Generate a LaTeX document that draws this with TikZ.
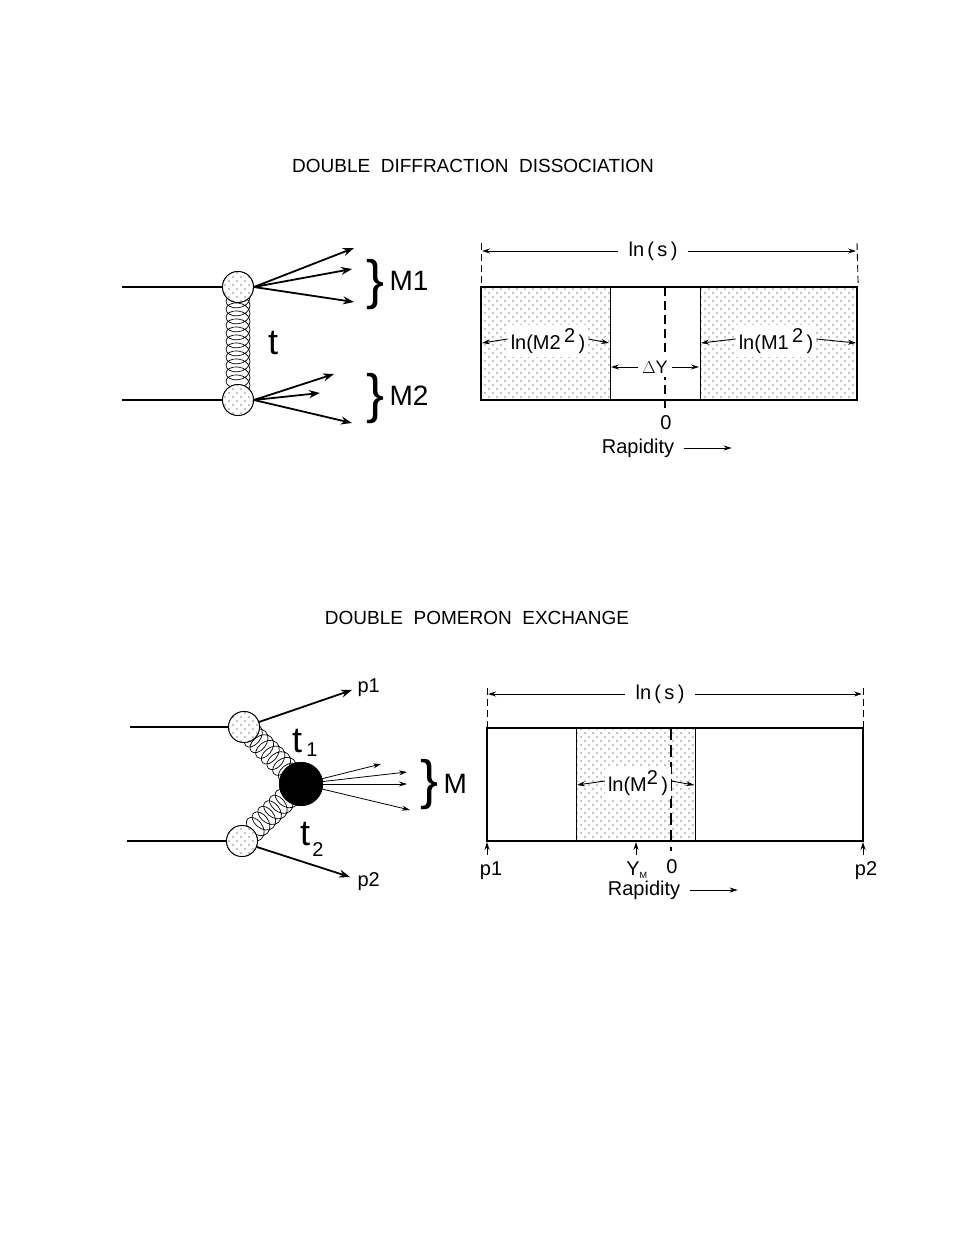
\documentclass[tikz,border=0pt]{standalone}
\usepackage{fontspec}
\setmainfont{Liberation Sans}
\usetikzlibrary{arrows.meta,decorations.pathmorphing,patterns}
\pgfdeclarepatternformonly{sdots}{\pgfpoint{-1pt}{-1pt}}{\pgfpoint{9pt}{9pt}}{\pgfpoint{8pt}{8pt}}{%
 \pgfpathcircle{\pgfpoint{1pt}{1pt}}{0.7pt}\pgfpathcircle{\pgfpoint{5pt}{5pt}}{0.7pt}\pgfusepath{fill}}
\newcommand{\sqr}{\raisebox{7pt}{2}}
\begin{document}
\begin{tikzpicture}[x=1pt,y=-1pt,
 line/.style={line width=1.6pt},
 blob/.style={circle,draw,line width=0.9pt,minimum size=31pt,inner sep=0pt,fill=white,postaction={pattern=sdots}},
 big/.style={-{Stealth[length=11pt,width=8pt]},line width=1.8pt},
 thin/.style={-{Stealth[length=8pt,width=5pt]},line width=0.9pt},
 box/.style={draw,line width=1.2pt},
 gluon/.style={decorate,decoration={coil,aspect=0.7,segment length=8pt,amplitude=12pt},line width=0.7pt},
 lab/.style={font=\fontsize{20}{22}\selectfont},
 ttl/.style={font=\fontsize{19}{22}\selectfont},
 bigl/.style={font=\fontsize{28}{30}\selectfont},
 brace/.style={font=\fontsize{54}{54}\selectfont},
 ]
\useasboundingbox (0,0) rectangle (963,1246);
% ===== top =====
\node[ttl] (title1) at (473,166) {DOUBLE\ \ DIFFRACTION\ \ DISSOCIATION};
\coordinate (in1) at (122,287);
\coordinate (in2) at (122,400);
\node[blob] (b1) at (238,287) {};
\node[blob] (b2) at (238,400) {};
\draw[gluon] (b1.center) -- (b2.center);
\draw[line] (in1) -- (b1.west);
\draw[line] (in2) -- (b2.west);
\node[blob] at (238,287) {};
\node[blob] at (238,400) {};
\coordinate (a1) at (354,248); \coordinate (a2) at (352,269); \coordinate (a3) at (354,302);
\coordinate (a4) at (334,374); \coordinate (a5) at (320,393); \coordinate (a6) at (352,423);
\foreach \a in {a1,a2,a3}{\draw[big] (b1.east) -- (\a);}
\foreach \a in {a4,a5,a6}{\draw[big] (b2.east) -- (\a);}
\node[brace] (M1) at (376,285) {\}};
\node[brace] (M2) at (376,399) {\}};
\node[bigl,anchor=west] (M1l) at (386,281) {M1};
\node[bigl,anchor=west] (M2l) at (386,396) {M2};
\node[font=\fontsize{36}{38}\selectfont] (t) at (273,343) {t};
% right top box
\node[box,minimum width=129pt,minimum height=113pt,inner sep=0pt,fill=white,postaction={pattern=sdots},anchor=north west] (L1) at (481,287) {};
\node[box,minimum width=157pt,minimum height=113pt,inner sep=0pt,fill=white,postaction={pattern=sdots},anchor=north west] (R1) at (700,287) {};
\draw[box] (481,287) rectangle (857,400);
\coordinate (d1t) at (665,287); \coordinate (d1b) at (665,410);
\draw[dashed,line width=1.1pt,dash pattern=on 9pt off 5pt] (d1t) -- (d1b);
\coordinate (s1l) at (481,243); \coordinate (s1r) at (857,243);
\draw[dashed,line width=0.9pt,dash pattern=on 7pt off 4pt] (s1l) -- (L1.north west);
\draw[dashed,line width=0.9pt,dash pattern=on 7pt off 4pt] (s1r) -- (R1.north east);
\node[lab,fill=white,inner xsep=10pt] (lns1) at (653,251) {ln\,(\,s\,)};
\draw[thin] (lns1.west) -- (482,251);
\draw[thin] (lns1.east) -- (856,251);
\node[lab,fill=white,inner sep=3pt] (lm2) at (548,341) {ln(M2\,\sqr\,)};
\draw[thin] ([yshift=2pt]lm2.west) -- (482,343);
\draw[thin] ([yshift=2pt]lm2.east) -- (609,343);
\node[lab,fill=white,inner sep=3pt] (lm1) at (776,341) {ln(M1\,\sqr\,)};
\draw[thin] ([yshift=2pt]lm1.west) -- (701,343);
\draw[thin] ([yshift=2pt]lm1.east) -- (856,343);
\node[fill=white,inner sep=4pt,font=\fontsize{18}{18}\selectfont\rmfamily] (dy) at (655,367) {$\Delta$Y};
\draw[thin] (dy.west) -- (611,367);
\draw[thin] (dy.east) -- (699,367);
\node[lab] (z1) at (666,423) {0};
\node[lab] (rap1) at (638,448) {Rapidity};
\draw[thin] ([xshift=6pt]rap1.east) -- ++(48,0);
% ===== bottom =====
\node[ttl] (title2) at (477,618) {DOUBLE\ \ POMERON\ \ EXCHANGE};
\coordinate (in3) at (130,727);
\coordinate (in4) at (127,841);
\node[blob] (b3) at (244,727) {};
\node[blob] (b4) at (242,841) {};
\node[circle,fill=black,minimum size=44pt,inner sep=0pt] (c) at (301,784) {};
\draw[gluon] (b3.center) -- (c.center);
\draw[gluon] (c.center) -- (b4.center);
\draw[line] (in3) -- (b3.west);
\draw[line] (in4) -- (b4.west);
\node[blob] at (244,727) {};
\node[blob] at (242,841) {};
\node[circle,fill=black,minimum size=44pt,inner sep=0pt] at (301,784) {};
\coordinate (p1t) at (352,690); \coordinate (p2t) at (350,877);
\draw[big] (b3.east) ++(-1,-5) -- (p1t);
\draw[big] (b4.east) ++(-1,6) -- (p2t);
\node[lab,anchor=west] (p1l) at (354,688) {p1};
\node[lab,anchor=west] (p2l) at (354,882) {p2};
\coordinate (m1) at (381,764); \coordinate (m2) at (407,772); \coordinate (m3) at (407,784); \coordinate (m4) at (410,810);
\foreach \a in {m1,m2,m3,m4}{\draw[thin,line width=0.8pt] (c.center) -- (\a);}
\node[brace] (Mb) at (430,785) {\}};
\node[bigl,anchor=west] (Ml) at (440,784) {M};
\node[font=\fontsize{36}{38}\selectfont] (t1) at (297,741) {t};
\node[lab] (t1s) at (312,750) {1};
\node[font=\fontsize{36}{38}\selectfont] (t2) at (305,834) {t};
\node[lab] (t2s) at (318,850) {2};
% right bottom box
\node[box,minimum width=119pt,minimum height=113pt,inner sep=0pt,fill=white,postaction={pattern=sdots},anchor=north west] (S) at (576,728) {};
\draw[box] (487,728) rectangle (863,841);
\coordinate (d2t) at (671,728); \coordinate (d2b) at (671,851);
\draw[dashed,line width=1.1pt,dash pattern=on 12pt off 5pt] (d2t) -- (d2b);
\coordinate (s2l) at (487,688); \coordinate (s2r) at (863,688);
\coordinate (bl) at (487,728); \coordinate (br) at (863,728);
\draw[dashed,line width=0.9pt,dash pattern=on 7pt off 4pt] (s2l) -- (bl);
\draw[dashed,line width=0.9pt,dash pattern=on 7pt off 4pt] (s2r) -- (br);
\node[lab,fill=white,inner xsep=10pt] (lns2) at (660,694) {ln\,(\,s\,)};
\draw[thin] (lns2.west) -- (488,694);
\draw[thin] (lns2.east) -- (862,694);
\node[lab,fill=white,inner sep=3pt] (lm) at (638,783) {ln(M\sqr\,)};
\draw[thin] ([yshift=2pt]lm.west) -- (577,785);
\draw[thin] ([yshift=2pt]lm.east) -- (694,785);
\coordinate (q1) at (487,855); \coordinate (q2) at (636,855); \coordinate (q3) at (863,855);
\draw[thin] (q1) -- (487,842);
\draw[thin] (q2) -- (636,842);
\draw[thin] (q3) -- (863,842);
\node[lab] (pp1) at (491,871) {p1};
\node[lab] (ym) at (637,870) {Y\textsubscript{\fontsize{9}{10}\selectfont M}};
\node[lab] (z2) at (672,867) {0};
\node[lab] (pp2) at (866,871) {p2};
\node[lab] (rap2) at (644,890) {Rapidity};
\draw[thin] ([xshift=6pt]rap2.east) -- ++(48,0);
\end{tikzpicture}
\end{document}
